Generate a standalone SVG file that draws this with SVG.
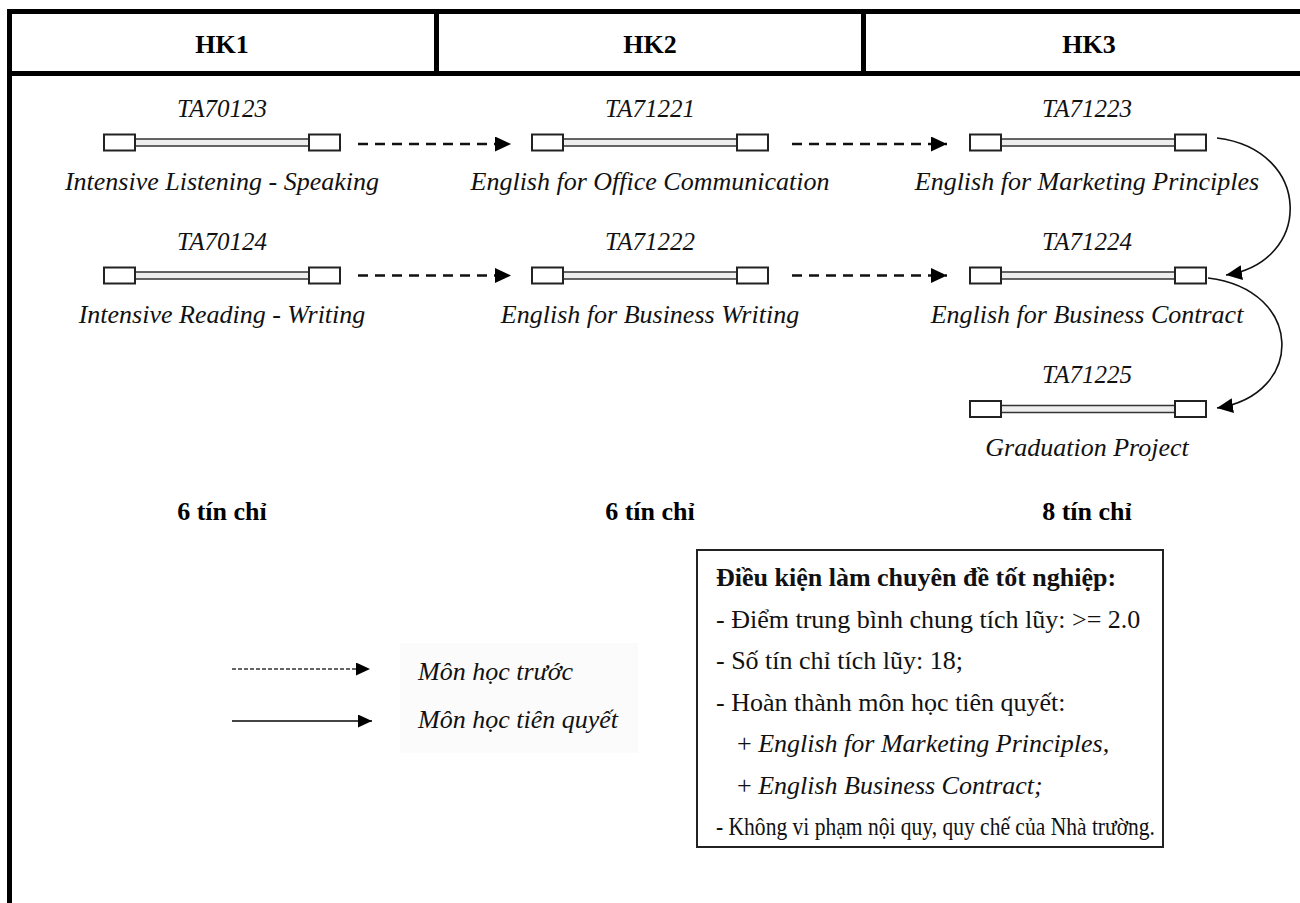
<svg xmlns="http://www.w3.org/2000/svg" width="1300" height="903" viewBox="0 0 1300 903">
<defs>
<style>
.hdr{font-family:"Liberation Serif","Times New Roman",serif;font-weight:bold;font-size:26px;text-anchor:middle;fill:#000}
.code{font-family:"Liberation Serif","Times New Roman",serif;font-style:italic;font-size:25px;text-anchor:middle;fill:#111}
.name{font-family:"Liberation Serif","Times New Roman",serif;font-style:italic;font-size:26px;text-anchor:middle;fill:#111}
.cred{font-family:"Liberation Serif","Times New Roman",serif;font-weight:bold;font-size:26px;text-anchor:middle;fill:#000}
.box{font-family:"Liberation Serif","Times New Roman",serif;font-size:26px;fill:#111}
.boxb{font-family:"Liberation Serif","Times New Roman",serif;font-size:26px;font-weight:bold;fill:#111}
.it{font-style:italic}
.leg{font-family:"Liberation Serif","Times New Roman",serif;font-style:italic;font-size:26px;fill:#111}
.frame{stroke:#000;stroke-width:5;fill:none}
.end{fill:#fff;stroke:#222;stroke-width:2}
.rod{fill:#eee;stroke:#333;stroke-width:1.5}
.dash{stroke:#111;stroke-width:2.5;stroke-dasharray:10 7;fill:none}
.curve{stroke:#111;stroke-width:1.6;fill:none}
</style>
<marker id="ah" markerUnits="userSpaceOnUse" markerWidth="17" markerHeight="16" refX="16" refY="7.5" orient="auto">
<path d="M0,0 L16,7.5 L0,15 z" fill="#000"/>
</marker>
<marker id="ahs" markerUnits="userSpaceOnUse" markerWidth="15" markerHeight="14" refX="14" refY="6.5" orient="auto">
<path d="M0,0 L14,6.5 L0,13 z" fill="#000"/>
</marker>
<g id="bar">
<rect class="rod" x="31" y="-3.5" width="174" height="7"/>
<rect class="end" x="0" y="-8" width="31" height="16"/>
<rect class="end" x="205" y="-8" width="31" height="16"/>
</g>
</defs>
<rect width="1300" height="903" fill="#fff"/>

<g id="frame">
<line class="frame" x1="7" y1="11.5" x2="1300" y2="11.5"/>
<line class="frame" x1="7" y1="73.5" x2="1300" y2="73.5"/>
<line class="frame" x1="9.5" y1="9" x2="9.5" y2="903"/>
<line class="frame" x1="436.5" y1="9" x2="436.5" y2="76"/>
<line class="frame" x1="863.5" y1="9" x2="863.5" y2="76"/>
<text class="hdr" x="222" y="53">HK1</text>
<text class="hdr" x="650" y="53">HK2</text>
<text class="hdr" x="1089" y="53">HK3</text>
</g>

<g id="TA70123">
<text class="code" x="222" y="117">TA70123</text>
<use href="#bar" x="104" y="142.5"/>
<text class="name" x="222" y="190">Intensive Listening - Speaking</text>
</g>
<g id="TA71221">
<text class="code" x="650" y="117">TA71221</text>
<use href="#bar" x="532" y="142.5"/>
<text class="name" x="650" y="190">English for Office Communication</text>
</g>
<g id="TA71223">
<text class="code" x="1087" y="117">TA71223</text>
<use href="#bar" x="970" y="142.5"/>
<text class="name" x="1087" y="190">English for Marketing Principles</text>
</g>
<g id="TA70124">
<text class="code" x="222" y="250">TA70124</text>
<use href="#bar" x="104" y="275.5"/>
<text class="name" x="222" y="323">Intensive Reading - Writing</text>
</g>
<g id="TA71222">
<text class="code" x="650" y="250">TA71222</text>
<use href="#bar" x="532" y="275.5"/>
<text class="name" x="650" y="323">English for Business Writing</text>
</g>
<g id="TA71224">
<text class="code" x="1087" y="250">TA71224</text>
<use href="#bar" x="970" y="275.5"/>
<text class="name" x="1087" y="323">English for Business Contract</text>
</g>
<g id="TA71225">
<text class="code" x="1087" y="383">TA71225</text>
<use href="#bar" x="970" y="409"/>
<text class="name" x="1087" y="456">Graduation Project</text>
</g>

<g id="connectors">
<line class="dash" x1="358" y1="144" x2="511" y2="144" marker-end="url(#ah)"/>
<line class="dash" x1="792" y1="144" x2="947" y2="144" marker-end="url(#ah)"/>
<line class="dash" x1="358" y1="275.5" x2="511" y2="275.5" marker-end="url(#ah)"/>
<line class="dash" x1="792" y1="275.5" x2="947" y2="275.5" marker-end="url(#ah)"/>
<path class="curve" d="M1217,138 C1313,150 1313,262 1226,275" marker-end="url(#ah)"/>
<path class="curve" d="M1208,278 C1305,290 1305,395 1217,408" marker-end="url(#ah)"/>
</g>

<g id="credits">
<text class="cred" x="222" y="520">6 tín chỉ</text>
<text class="cred" x="650" y="520">6 tín chỉ</text>
<text class="cred" x="1087" y="520">8 tín chỉ</text>
</g>

<g id="legend">
<rect x="400" y="643" width="238" height="110" fill="#fbfbfb"/>
<line x1="232" y1="669" x2="370" y2="669" stroke="#333" stroke-width="1.5" stroke-dasharray="4 2" marker-end="url(#ahs)"/>
<line x1="232" y1="721" x2="372" y2="721" stroke="#444" stroke-width="2" marker-end="url(#ahs)"/>
<text class="leg" x="418" y="680">Môn học trước</text>
<text class="leg" x="418" y="728">Môn học tiên quyết</text>
</g>

<g id="conditions">
<rect x="697" y="550" width="466" height="297" fill="#fff" stroke="#222" stroke-width="2"/>
<text class="boxb" x="716" y="586">Điều kiện làm chuyên đề tốt nghiệp:</text>
<text class="box" x="716" y="627.5">- Điểm trung bình chung tích lũy: &gt;= 2.0</text>
<text class="box" x="716" y="669">- Số tín chỉ tích lũy: 18;</text>
<text class="box" x="716" y="710.5">- Hoàn thành môn học tiên quyết:</text>
<text class="box" x="737" y="752">+ <tspan class="it">English for Marketing Principles,</tspan></text>
<text class="box" x="737" y="793.5">+ <tspan class="it">English Business Contract;</tspan></text>
<text class="box" x="716" y="835" textLength="439" lengthAdjust="spacingAndGlyphs">- Không vi phạm nội quy, quy chế của Nhà trường.</text>
</g>
</svg>
